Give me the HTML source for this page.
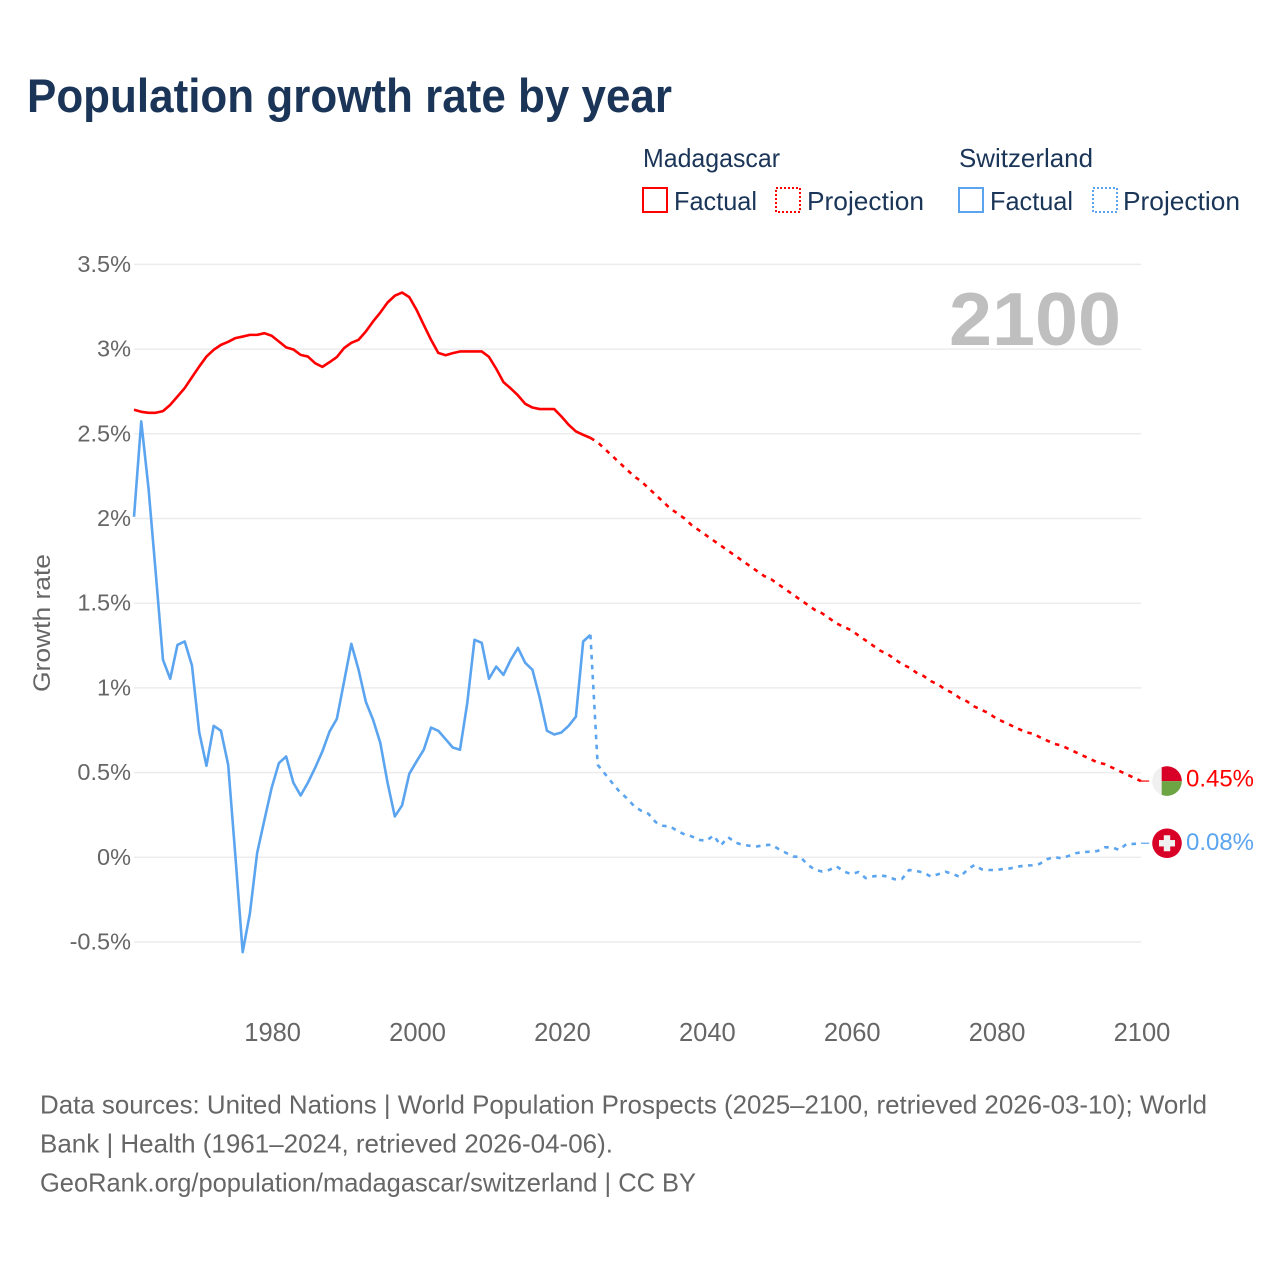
<!DOCTYPE html>
<html lang="en">
<head>
<meta charset="utf-8">
<title>Population growth rate by year</title>
<style>
html,body{margin:0;padding:0;background:#fff;}
svg{display:block;font-family:"Liberation Sans",sans-serif;}
</style>
</head>
<body>
<svg id="chart" xmlns="http://www.w3.org/2000/svg" width="1280" height="1280" viewBox="0 0 1280 1280">
  <rect width="1280" height="1280" fill="#fff"/>
  <text x="27" y="112" font-size="47" font-weight="700" fill="#1a3557" textLength="645" lengthAdjust="spacingAndGlyphs">Population growth rate by year</text>

  <g font-size="26" fill="#1a3557">
    <text x="643" y="167" textLength="137" lengthAdjust="spacingAndGlyphs">Madagascar</text>
    <text x="959" y="167" textLength="134" lengthAdjust="spacingAndGlyphs">Switzerland</text>
    <rect x="643" y="188" width="24" height="24" fill="none" stroke="#ff0000" stroke-width="2"/>
    <text x="674" y="210" textLength="83" lengthAdjust="spacingAndGlyphs">Factual</text>
    <rect x="776" y="188" width="24" height="24" fill="none" stroke="#ff0000" stroke-width="2" stroke-dasharray="2 2"/>
    <text x="807" y="210" textLength="117" lengthAdjust="spacingAndGlyphs">Projection</text>
    <rect x="959" y="188" width="24" height="24" fill="none" stroke="#5ba4ef" stroke-width="2"/>
    <text x="990" y="210" textLength="83" lengthAdjust="spacingAndGlyphs">Factual</text>
    <rect x="1093" y="188" width="24" height="24" fill="none" stroke="#5ba4ef" stroke-width="2" stroke-dasharray="2 2"/>
    <text x="1123" y="210" textLength="117" lengthAdjust="spacingAndGlyphs">Projection</text>
  </g>

  <g id="grid"></g>
  <g id="yticks"></g>
  <g id="xticks"></g>
  <text transform="translate(50,692) rotate(-90)" font-size="24" fill="#666" textLength="138" lengthAdjust="spacingAndGlyphs">Growth rate</text>
  <text x="949" y="345" font-size="75" font-weight="700" fill="#bfbfbf" textLength="172" lengthAdjust="spacingAndGlyphs">2100</text>
  <g id="series"></g>
  <g id="ends"></g>

  <g font-size="26" fill="#666">
    <text x="40" y="1113.5" textLength="1167" lengthAdjust="spacingAndGlyphs">Data sources: United Nations | World Population Prospects (2025–2100, retrieved 2026-03-10); World</text>
    <text x="40" y="1152.5" textLength="573" lengthAdjust="spacingAndGlyphs">Bank | Health (1961–2024, retrieved 2026-04-06).</text>
    <text x="40" y="1191.5" textLength="656" lengthAdjust="spacingAndGlyphs">GeoRank.org/population/madagascar/switzerland | CC BY</text>
  </g>
</svg>
<script>
const firstYear = 1961;
const lastYear = 2100;
const yTickValues = [3.5, 3, 2.5, 2, 1.5, 1, 0.5, 0, -0.5];
const xTickYears = [1980, 2000, 2020, 2040, 2060, 2080, 2100];

// Madagascar, growth rate %, 1961-2024
const madagascarFactual = [
  2.642,2.63,2.624,2.624,2.634,2.671,2.72,2.77,2.834,2.897,
  2.956,2.996,3.025,3.043,3.065,3.074,3.084,3.084,3.094,3.079,
  3.045,3.01,2.998,2.966,2.956,2.917,2.895,2.923,2.953,3.006,
  3.037,3.055,3.104,3.163,3.216,3.275,3.315,3.334,3.307,3.232,
  3.143,3.055,2.978,2.964,2.976,2.986,2.986,2.986,2.986,2.954,
  2.884,2.805,2.768,2.727,2.677,2.655,2.646,2.646,2.646,2.602,
  2.553,2.514,2.494,2.476
];
// Madagascar, growth rate %, 2025-2100
const madagascarProjection = [
  2.45,2.41,2.37,2.33,2.29,2.25,2.22,2.18,2.14,2.10,
  2.06,2.03,2.00,1.96,1.93,1.90,1.87,1.84,1.81,1.78,
  1.75,1.72,1.69,1.66,1.64,1.61,1.58,1.55,1.52,1.49,
  1.46,1.44,1.41,1.38,1.36,1.34,1.31,1.28,1.25,1.22,
  1.20,1.17,1.14,1.12,1.09,1.07,1.04,1.02,0.99,0.97,
  0.94,0.92,0.89,0.87,0.85,0.82,0.80,0.78,0.76,0.74,
  0.73,0.71,0.69,0.67,0.66,0.64,0.62,0.60,0.58,0.56,
  0.55,0.53,0.51,0.49,0.47,0.45
];
// Switzerland, growth rate %, 1961-2024
const switzerlandFactual = [
  2.01,2.573,2.18,1.68,1.166,1.054,1.254,1.274,1.132,0.739,
  0.54,0.776,0.747,0.546,0.005,-0.56,-0.33,0.026,0.22,0.41,
  0.556,0.595,0.44,0.365,0.44,0.528,0.625,0.743,0.817,1.038,
  1.26,1.107,0.918,0.812,0.675,0.44,0.241,0.306,0.493,0.566,
  0.635,0.766,0.747,0.698,0.648,0.635,0.91,1.284,1.266,1.054,
  1.126,1.077,1.166,1.236,1.148,1.107,0.942,0.747,0.725,0.737,
  0.776,0.831,1.274,1.313
];
// Switzerland, growth rate %, 2025-2100
const switzerlandProjection = [
  0.546,0.493,0.44,0.388,0.35,0.304,0.275,0.257,0.208,0.186,
  0.182,0.156,0.135,0.123,0.103,0.097,0.129,0.07,0.119,0.087,
  0.074,0.068,0.064,0.072,0.074,0.048,0.026,0.005,0.001,-0.044,
  -0.074,-0.084,-0.074,-0.054,-0.084,-0.099,-0.087,-0.123,-0.113,-0.107,
  -0.113,-0.13,-0.128,-0.075,-0.081,-0.09,-0.114,-0.10,-0.085,-0.098,
  -0.116,-0.075,-0.045,-0.071,-0.075,-0.075,-0.069,-0.065,-0.055,-0.049,
  -0.047,-0.039,-0.012,0.002,-0.006,0.008,0.024,0.031,0.033,0.037,
  0.059,0.059,0.043,0.079,0.079,0.083
];

const NS = 'http://www.w3.org/2000/svg';
const xLeft = 134, xRight = 1141, yZero = 857.3, pxPerPercent = 169.4;
function xScale(year) { return xLeft + (year - firstYear) * (xRight - xLeft) / (lastYear - firstYear); }
function yScale(value) { return yZero - value * pxPerPercent; }
function make(tag, attrs, parent) {
  const el = document.createElementNS(NS, tag);
  for (const k in attrs) el.setAttribute(k, attrs[k]);
  parent.appendChild(el);
  return el;
}

const gridG = document.getElementById('grid');
const yG = document.getElementById('yticks');
yTickValues.forEach(function (v) {
  const line = make('line', {x1: xLeft, x2: xRight, y1: yScale(v), y2: yScale(v), stroke: '#ececec', 'stroke-width': 1.5}, gridG);
  
  
  const t = make('text', {x: 131, y: yScale(v) + 7.5, 'text-anchor': 'end', 'font-size': 23.5, fill: '#666'}, yG);
  t.textContent = v + '%';
  
  
});

const xG = document.getElementById('xticks');
xTickYears.forEach(function (yr) {
  const t = make('text', {x: xScale(yr) + 1, y: 1041, 'text-anchor': 'middle', 'font-size': 25.5, fill: '#666'}, xG);
  t.textContent = yr;
  
  
});

function pathFrom(values, startYear) {
  return values.map(function (v, i) {
    return (i ? 'L' : 'M') + xScale(startYear + i).toFixed(2) + ' ' + yScale(v).toFixed(2);
  }).join(' ');
}
const seriesG = document.getElementById('series');
function drawSeries(factual, projection, color, key) {
  const solid = make('path', {d: pathFrom(factual, firstYear), fill: 'none', stroke: color, 'stroke-width': 2.6, 'stroke-linejoin': 'round'}, seriesG);
  
  
  const joined = [factual[factual.length - 1]].concat(projection);
  const dashed = make('path', {d: pathFrom(joined, firstYear + factual.length - 1), fill: 'none', stroke: color, 'stroke-width': 2.6, 'stroke-dasharray': '4.5 5.5'}, seriesG);
  
  
}
drawSeries(madagascarFactual, madagascarProjection, '#ff0000', 'madagascar');
drawSeries(switzerlandFactual, switzerlandProjection, '#5ba4ef', 'switzerland');

const endsG = document.getElementById('ends');
const flagX = 1167, flagR = 14.8;
function endLabel(value, color, key, labelShift) {
  const y = yScale(value);
  const conn = make('line', {x1: xRight, x2: flagX - flagR - 3, y1: y, y2: y, stroke: color, 'stroke-width': 1.2}, endsG);
  
  
  const t = make('text', {x: 1186, y: y + labelShift, 'font-size': 24.5, fill: color, textLength: 68, lengthAdjust: 'spacingAndGlyphs'}, endsG);
  t.textContent = value.toFixed(2) + '%';
  
  
  return y;
}
const mgY = endLabel(madagascarProjection[madagascarProjection.length - 1], '#ff0000', 'madagascar', 5.5);
const chY = endLabel(switzerlandProjection[switzerlandProjection.length - 1], '#5ba4ef', 'switzerland', 7);

const mgFlag = make('g', {}, endsG);


make('circle', {cx: flagX, cy: mgY, r: flagR, fill: '#f0f0f0'}, mgFlag);
const splitX = flagX - 5.3;
const dx = Math.sqrt(flagR * flagR - 5.3 * 5.3);
make('path', {d: 'M' + splitX + ' ' + mgY + ' V' + (mgY - dx) + ' A' + flagR + ' ' + flagR + ' 0 0 1 ' + (flagX + flagR) + ' ' + mgY + ' Z', fill: '#d80027'}, mgFlag);
make('path', {d: 'M' + splitX + ' ' + mgY + ' V' + (mgY + dx) + ' A' + flagR + ' ' + flagR + ' 0 0 0 ' + (flagX + flagR) + ' ' + mgY + ' Z', fill: '#6da544'}, mgFlag);

const chFlag = make('g', {}, endsG);


make('circle', {cx: flagX, cy: chY, r: flagR, fill: '#d80027'}, chFlag);
make('rect', {x: flagX - 8, y: chY - 3.2, width: 16, height: 6.4, fill: '#f0f0f0'}, chFlag);
make('rect', {x: flagX - 3.2, y: chY - 8, width: 6.4, height: 16, fill: '#f0f0f0'}, chFlag);
</script>
</body>
</html>
